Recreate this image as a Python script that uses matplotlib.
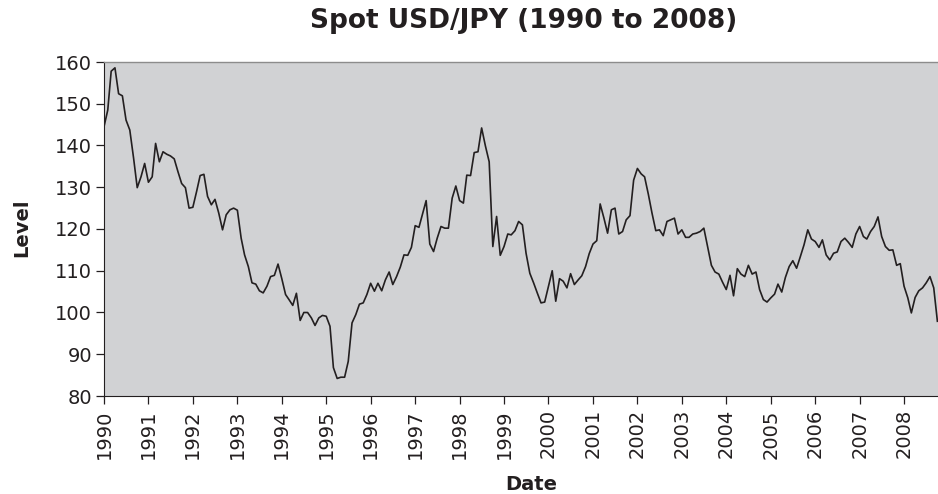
import numpy as np
import pandas as pd
import matplotlib
matplotlib.use('Agg')
import matplotlib.pyplot as plt
import matplotlib.dates as mdates

# Month-end spot USD/JPY, Jan 1990 - Oct 2008
usdjpy_1990 = [144.5, 148.5, 157.8, 158.6, 152.4, 151.9, 146.1, 143.7, 137.0, 129.9, 132.5, 135.7]
usdjpy_1991 = [131.2, 132.5, 140.5, 136.1, 138.5, 137.9, 137.5, 136.8, 133.7, 130.9, 129.9, 125.0]
usdjpy_1992 = [125.2, 129.0, 132.8, 133.1, 127.8, 125.8, 127.1, 123.8, 119.8, 123.4, 124.6, 125.0]
usdjpy_1993 = [124.5, 117.8, 113.8, 111.0, 107.1, 106.8, 105.2, 104.7, 106.3, 108.6, 108.9, 111.6]
usdjpy_1994 = [108.1, 104.3, 103.1, 101.7, 104.6, 98.1, 100.0, 100.0, 98.7, 96.9, 98.7, 99.3]
usdjpy_1995 = [99.1, 96.7, 86.8, 84.2, 84.5, 84.5, 88.3, 97.5, 99.5, 102.0, 102.3, 104.3]
usdjpy_1996 = [107.0, 105.1, 107.0, 105.2, 107.8, 109.7, 106.7, 108.6, 110.9, 113.8, 113.7, 115.6]
usdjpy_1997 = [120.8, 120.4, 123.4, 126.8, 116.4, 114.6, 117.8, 120.6, 120.2, 120.2, 127.4, 130.3]
usdjpy_1998 = [126.8, 126.2, 132.9, 132.8, 138.3, 138.5, 144.2, 139.9, 136.1, 115.8, 123.0, 113.7]
usdjpy_1999 = [115.8, 118.8, 118.6, 119.6, 121.8, 121.0, 114.2, 109.4, 107.1, 104.7, 102.3, 102.5]
usdjpy_2000 = [106.3, 110.0, 102.7, 108.1, 107.5, 105.9, 109.3, 106.7, 107.8, 108.8, 111.0, 114.1]
usdjpy_2001 = [116.4, 117.2, 126.0, 122.6, 119.0, 124.6, 125.0, 118.8, 119.4, 122.2, 123.2, 131.7]
usdjpy_2002 = [134.5, 133.2, 132.5, 128.3, 123.8, 119.6, 119.8, 118.4, 121.8, 122.2, 122.6, 118.8]
usdjpy_2003 = [119.8, 118.0, 118.0, 118.8, 119.0, 119.4, 120.2, 115.8, 111.3, 109.7, 109.2, 107.3]
usdjpy_2004 = [105.5, 108.9, 104.0, 110.5, 109.2, 108.6, 111.3, 109.2, 109.7, 105.5, 103.1, 102.5]
usdjpy_2005 = [103.5, 104.4, 106.8, 104.9, 108.4, 111.0, 112.4, 110.6, 113.4, 116.2, 119.8, 117.6]
usdjpy_2006 = [117.0, 115.6, 117.4, 113.8, 112.6, 114.2, 114.5, 117.0, 117.8, 116.8, 115.6, 118.8]
usdjpy_2007 = [120.6, 118.2, 117.6, 119.4, 120.6, 122.9, 118.2, 115.8, 114.9, 115.0, 111.3, 111.7]
usdjpy_2008 = [106.3, 103.5, 99.9, 103.6, 105.2, 105.9, 107.1, 108.6, 105.9, 97.9]

level = (usdjpy_1990 + usdjpy_1991 + usdjpy_1992 + usdjpy_1993 + usdjpy_1994
         + usdjpy_1995 + usdjpy_1996 + usdjpy_1997 + usdjpy_1998 + usdjpy_1999
         + usdjpy_2000 + usdjpy_2001 + usdjpy_2002 + usdjpy_2003 + usdjpy_2004
         + usdjpy_2005 + usdjpy_2006 + usdjpy_2007 + usdjpy_2008)
dates = pd.date_range('1990-01-01', periods=len(level), freq='MS')

plt.rcParams['font.family'] = ['DejaVu Sans']
ink = '#231f20'

fig = plt.figure(figsize=(9.38, 4.94), dpi=100)
ax = fig.add_axes([104 / 938, 1 - 396 / 494, 834 / 938, (396 - 62) / 494])
ax.set_facecolor('#d1d2d4')

ax.plot(dates, level, color=ink, lw=1.2)

ax.set_ylim(80, 160)
ax.set_yticks(np.arange(80, 161, 10))
ax.set_xlim(dates[0], dates[-1] + pd.Timedelta(days=5))
ax.xaxis.set_major_locator(mdates.YearLocator())
ax.xaxis.set_major_formatter(mdates.DateFormatter('%Y'))

ax.tick_params(axis='both', direction='out', length=5.5, width=0.9,
               colors=ink, labelsize=14)
ax.tick_params(axis='y', pad=3)
ax.tick_params(axis='x', pad=4, labelrotation=90)

ax.spines['right'].set_visible(False)
ax.spines['top'].set_color('#8c8c8c')
ax.spines['top'].set_linewidth(1.0)
ax.spines['left'].set_color(ink)
ax.spines['bottom'].set_color(ink)

fig.text(524 / 938, 1 - 21 / 494, 'Spot USD/JPY (1990 to 2008)', ha='center', va='center',
         fontsize=19, fontweight='bold', color=ink)
fig.text(531 / 938, 1 - 484 / 494, 'Date', ha='center', va='center',
         fontsize=14, fontweight='bold', color=ink)
fig.text(21.5 / 938, 1 - 228 / 494, 'Level', ha='center', va='center', rotation=90,
         fontsize=14, fontweight='bold', color=ink)

fig.savefig('out.png', dpi=100)
